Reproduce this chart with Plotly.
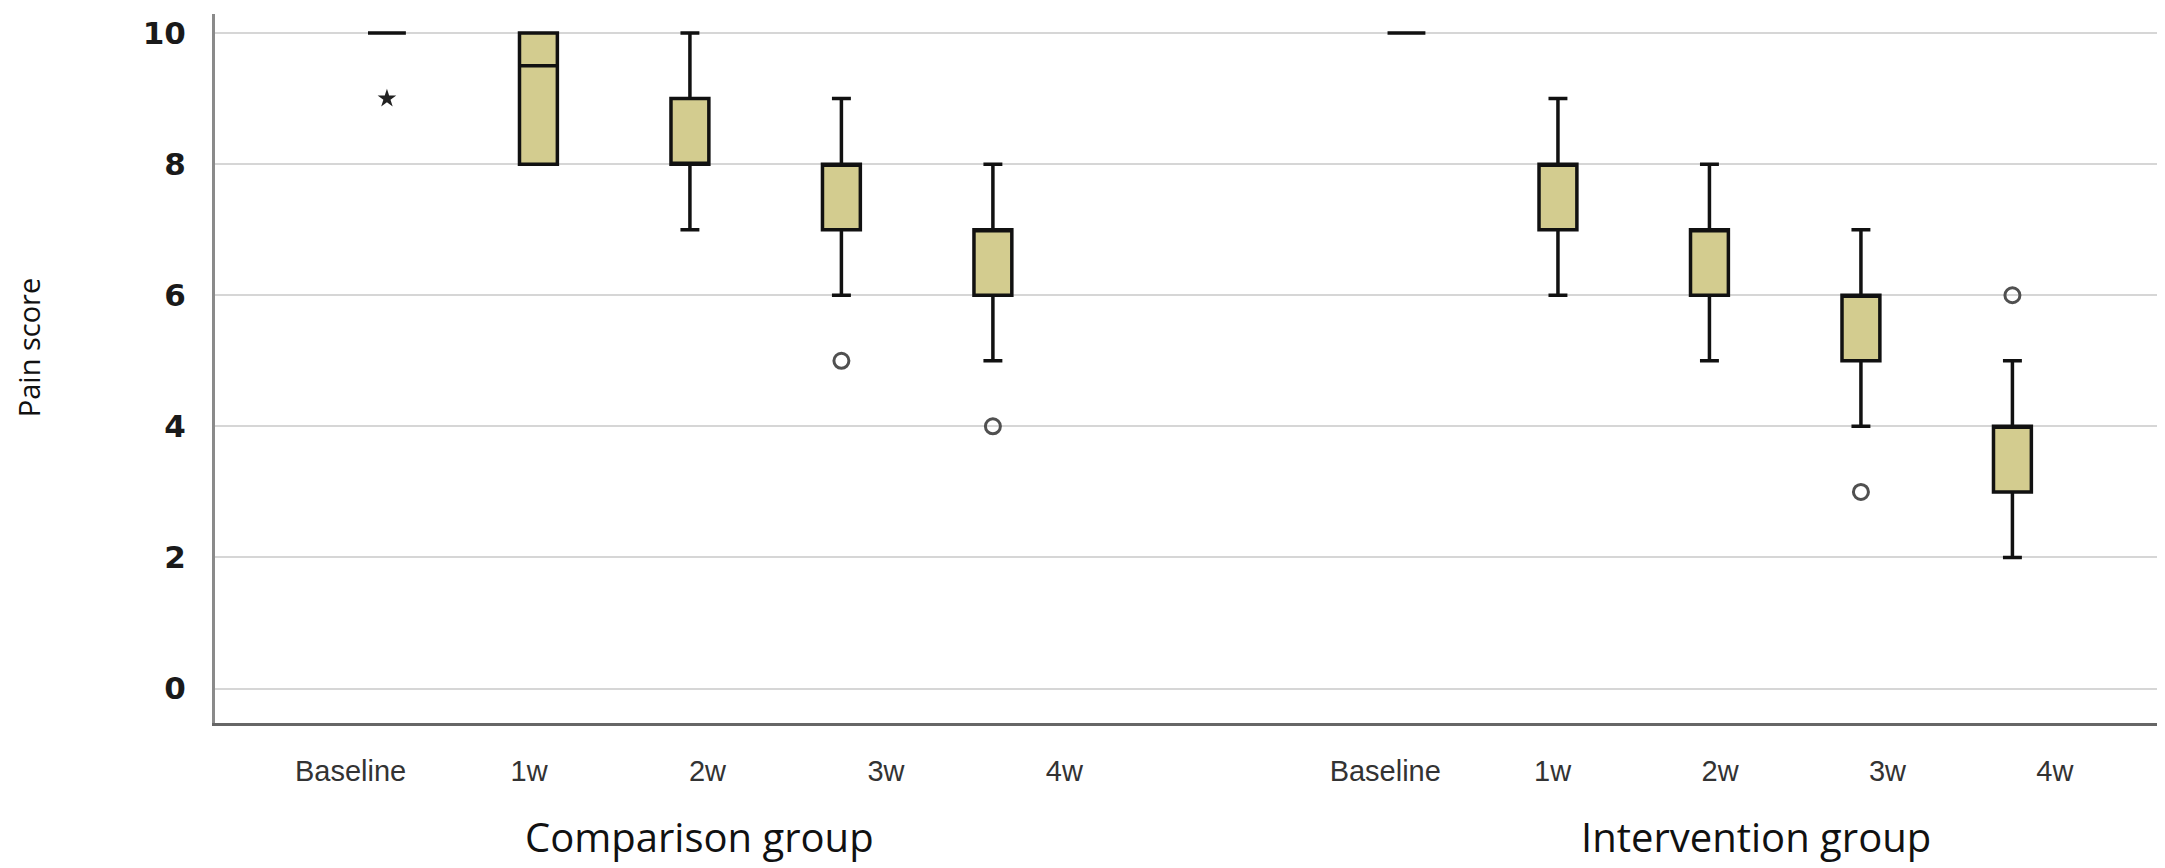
import plotly.graph_objects as go

# time points and groups
time_points = ["Baseline", "1w", "2w", "3w", "4w"]
groups = ["Comparison group", "Intervention group"]

# box statistics, one list per group
comp_q1 = [10, 8, 8, 7, 6]
comp_median = [10, 9.5, 8, 8, 7]
comp_q3 = [10, 10, 9, 8, 7]
comp_low = [10, 8, 7, 6, 5]
comp_high = [10, 10, 10, 9, 8]

int_q1 = [10, 7, 6, 5, 3]
int_median = [10, 8, 7, 6, 4]
int_q3 = [10, 8, 7, 6, 4]
int_low = [10, 6, 5, 4, 2]
int_high = [10, 9, 8, 7, 5]

# outliers (index of time point, value)
comp_outliers = [(3, 5), (4, 4)]
comp_extremes = [(0, 9)]
int_outliers = [(3, 3), (4, 6)]

y_ticks = [0, 2, 4, 6, 8, 10]

# where each group starts on the x axis, and where its labels sit
GROUP_START = [0, 6.73]
LABEL_START = [-0.24, 6.59]
LABEL_STEP = [1.178, 1.105]

BOX_FILL = "#d3cc8f"

stats = [
    (comp_q1, comp_median, comp_q3, comp_low, comp_high),
    (int_q1, int_median, int_q3, int_low, int_high),
]

fig = go.Figure()

for g, (q1, med, q3, lo, hi) in enumerate(stats):
    xs = [GROUP_START[g] + i for i in range(len(time_points))]
    fig.add_trace(go.Box(
        x=xs, q1=q1, median=med, q3=q3,
        lowerfence=lo, upperfence=hi,
        width=0.25, whiskerwidth=0.5,
        fillcolor=BOX_FILL,
        line=dict(color="#111111", width=3.5),
        boxpoints=False,
        hoverinfo="skip",
        name=groups[g],
    ))

def outlier_xy(points, g):
    return ([GROUP_START[g] + i for i, _ in points], [v for _, v in points])

for g, pts in enumerate([comp_outliers, int_outliers]):
    ox, oy = outlier_xy(pts, g)
    fig.add_trace(go.Scatter(
        x=ox, y=oy, mode="markers",
        marker=dict(symbol="circle-open", size=15, color="#505050",
                    line=dict(width=3, color="#505050")),
        hoverinfo="skip",
    ))

ex, ey = outlier_xy(comp_extremes, 0)
fig.add_trace(go.Scatter(
    x=ex, y=ey, mode="markers",
    marker=dict(symbol="star", size=14, color="#222222"),
    hoverinfo="skip",
))

tick_vals = []
tick_text = []
for g in range(len(groups)):
    for i, t in enumerate(time_points):
        tick_vals.append(LABEL_START[g] + i * LABEL_STEP[g])
        tick_text.append(t)

fig.update_xaxes(
    range=[-1.135, 11.79],
    tickmode="array", tickvals=tick_vals, ticktext=tick_text,
    ticks="", ticklabelstandoff=20,
    tickfont=dict(family="Liberation Sans", size=29, color="#333333"),
    showgrid=False, zeroline=False,
    showline=True, linecolor="#666666", linewidth=3,
)
fig.update_yaxes(
    range=[-0.525, 10.29],
    tickmode="array", tickvals=y_ticks,
    ticks="", ticklabelstandoff=20,
    tickfont=dict(family="DejaVu Sans", size=31, color="#1a1a1a", weight="bold"),
    showgrid=True, gridcolor="#d6d6d6", gridwidth=2,
    zeroline=False,
    showline=True, linecolor="#8a8a8a", linewidth=3,
)

group_centers = [2.06, 9.04]
for g, name in enumerate(groups):
    fig.add_annotation(
        x=group_centers[g], xref="x", y=-0.16, yref="paper",
        text=name, showarrow=False, xanchor="center", yanchor="middle",
        font=dict(family="Open Sans", size=40, color="#111111"),
    )

fig.add_annotation(
    x=-0.0955, xref="paper", y=0.53, yref="paper",
    text="Pain score", textangle=-90, showarrow=False,
    xanchor="center", yanchor="middle",
    font=dict(family="Open Sans", size=29, color="#111111"),
)

fig.update_layout(
    width=2165, height=868,
    margin=dict(l=207, r=0, t=6, b=153),
    plot_bgcolor="white", paper_bgcolor="white",
    showlegend=False,
)

fig.write_html("out.html")
